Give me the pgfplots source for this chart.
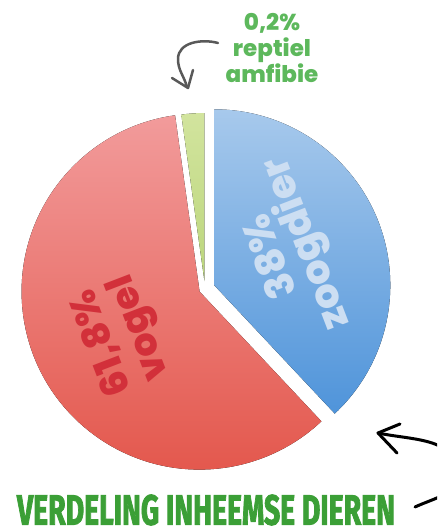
\documentclass[border=0pt]{standalone}
\usepackage{pgfplots}
\pgfplotsset{compat=1.18}
\usepackage{graphicx}
\usepackage{fontspec}
\setmainfont{Poppins}[BoldFont={Poppins ExtraBold}]
\newfontfamily\titlefont{Fira Sans}[FakeBold=2.5]

\definecolor{redtop}{HTML}{F29B9B}
\definecolor{redbot}{HTML}{E3564B}
\definecolor{bluetop}{HTML}{A7C9EC}
\definecolor{bluebot}{HTML}{4F94DA}
\definecolor{greentop}{HTML}{D2E49E}
\definecolor{greenbot}{HTML}{BAD57A}
\definecolor{redtext}{HTML}{D2303A}
\definecolor{bluetext}{HTML}{CCDEF2}
\definecolor{labelgreen}{HTML}{5DB85C}
\definecolor{titlegreen}{HTML}{3B9F36}

% shares as they are drawn (percent)
\def\sharezoog{38}
\def\sharerept{2.2}
\def\sharevogel{59.8}

% #1 start angle, #2 end angle, #3 explode offset, #4 radius, #5/#6 shading
\newcommand\slice[6]{%
  \fill[top color=#5, bottom color=#6] (axis cs:205,238) ++({(#1+#2)/2}:#3pt)
    -- ++(#1:#4pt) arc[start angle=#1, end angle=#2, radius=#4pt] -- cycle;}

\begin{document}
\begin{tikzpicture}
  \pgfmathsetmacro\aA{90-3.6*\sharezoog}
  \pgfmathsetmacro\aB{90}
  \pgfmathsetmacro\aC{90+3.6*\sharerept}
  \pgfmathsetmacro\aD{\aC+3.6*\sharevogel}
  \begin{axis}[
    x=1pt, y=1pt,
    xmin=0, xmax=437,
    ymin=0, ymax=527,
    hide axis
  ]
    \path (axis cs:0,0) rectangle (axis cs:437,527);

    \slice{\aA}{\aB}{10}{176}{bluetop}{bluebot}
    \slice{\aB}{\aC}{8}{168}{greentop}{greenbot}
    \slice{\aC}{\aD}{6}{178}{redtop}{redbot}

    % slice labels
    \node[rotate=111, text=redtext, font=\bfseries\fontsize{38}{40}\selectfont]
      at (axis cs:101,184) {61,8\%};
    \node[rotate=111, text=redtext, font=\bfseries\fontsize{38}{40}\selectfont]
      at (axis cs:141,200) {vogel};
    \node[rotate=111, text=bluetext, font=\bfseries\fontsize{40}{40}\selectfont]
      at (axis cs:268,270) {38\%};
    \node[rotate=111, text=bluetext, font=\bfseries\fontsize{40}{40}\selectfont]
      at (axis cs:307,284) {zoogdier};

    \node[align=center, text=labelgreen, font=\bfseries\fontsize{23}{26}\selectfont]
      at (axis cs:272,479) {0,2\%\\reptiel\\amfibie};

    % hand drawn arrows
    \draw[black!65, line width=2.5pt, line cap=round, line join=round]
      (axis cs:218,484) to[out=165, in=90] (axis cs:178,468)
      to[out=-90, in=105] (axis cs:187,440);
    \draw[black!65, line width=2.5pt, line cap=round, line join=round]
      (axis cs:172,449) -- (axis cs:188,439) -- (axis cs:193,457);
    \draw[black, line width=3pt, line cap=round, line join=round]
      (axis cs:378,94) to[out=-12, in=95] (axis cs:458,55)
      to[out=-85, in=25] (axis cs:415,20);
    \draw[black, line width=3pt, line cap=round, line join=round]
      (axis cs:400,103) -- (axis cs:378,94) -- (axis cs:397,74);

    \node at (axis cs:206,17)
      {\resizebox{378pt}{30pt}{\titlefont\bfseries\color{titlegreen}VERDELING INHEEMSE DIEREN}};
  \end{axis}
\end{tikzpicture}
\end{document}
